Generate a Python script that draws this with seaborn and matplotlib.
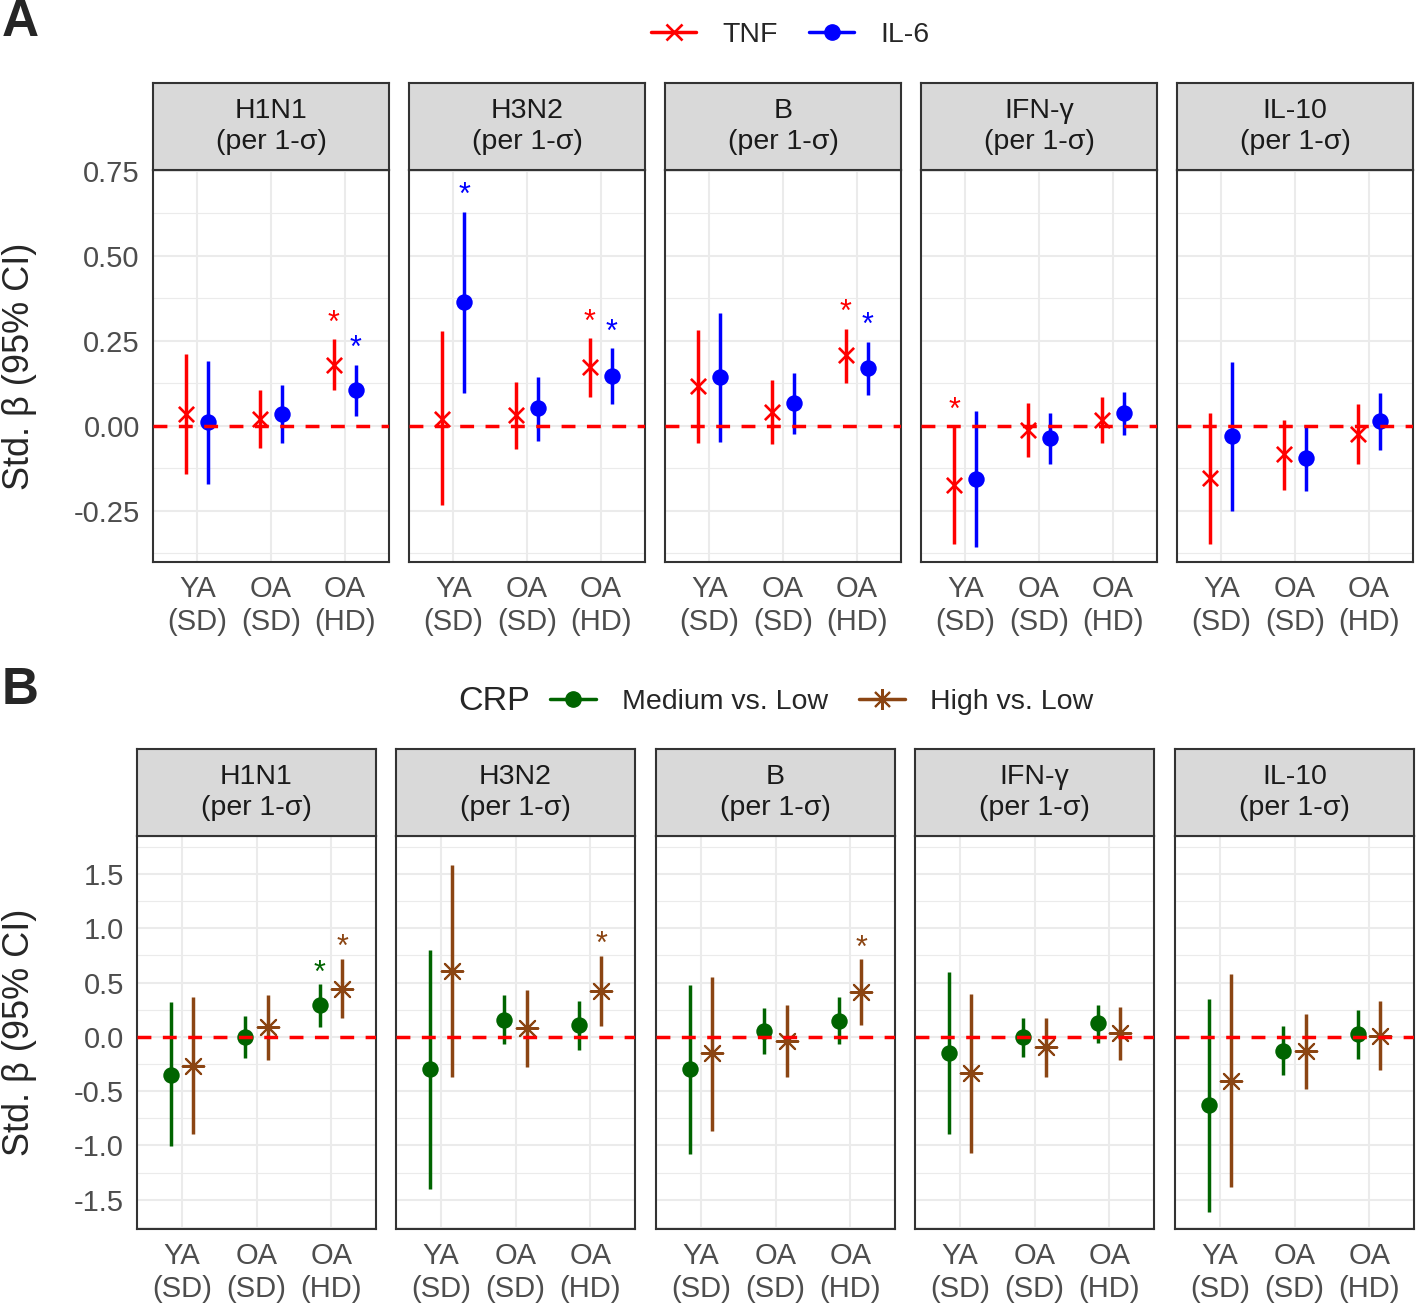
import pandas as pd
import matplotlib.pyplot as plt
from matplotlib.lines import Line2D
from matplotlib.ticker import MultipleLocator, FormatStrFormatter
import seaborn as sns

sns.set_style("white")
plt.rcParams['font.family'] = ['Liberation Sans', 'DejaVu Sans']
plt.rcParams['axes.unicode_minus'] = False

# -------------------------------
# Data
# -------------------------------
facets = ["H1N1", "H3N2", "B", "IFN-γ", "IL-10"]
groups = ["YA\n(SD)", "OA\n(SD)", "OA\n(HD)"]

# Panel A: TNF and IL-6, rows = facets, cols = groups
tnf_est = [[0.035, 0.020, 0.180], [0.020, 0.032, 0.172], [0.118, 0.042, 0.208], [-0.175, -0.012, 0.018], [-0.152, -0.084, -0.023]]
tnf_lo = [[-0.140, -0.065, 0.105], [-0.233, -0.068, 0.086], [-0.049, -0.054, 0.125], [-0.348, -0.090, -0.049], [-0.346, -0.188, -0.111]]
tnf_hi = [[0.210, 0.105, 0.255], [0.280, 0.130, 0.257], [0.282, 0.135, 0.286], [-0.002, 0.067, 0.086], [0.038, 0.018, 0.064]]
tnf_sig = [[0, 0, 1], [0, 0, 1], [0, 0, 1], [1, 0, 0], [0, 0, 0]]

il6_est = [[0.010, 0.035, 0.105], [0.364, 0.052, 0.147], [0.143, 0.066, 0.170], [-0.157, -0.035, 0.037], [-0.029, -0.094, 0.014]]
il6_lo = [[-0.170, -0.050, 0.030], [0.096, -0.044, 0.064], [-0.047, -0.023, 0.092], [-0.357, -0.111, -0.028], [-0.251, -0.190, -0.070]]
il6_hi = [[0.190, 0.120, 0.180], [0.630, 0.145, 0.228], [0.332, 0.154, 0.247], [0.043, 0.038, 0.100], [0.189, 0.002, 0.096]]
il6_sig = [[0, 0, 1], [1, 0, 1], [0, 0, 1], [0, 0, 0], [0, 0, 0]]

# Panel B: CRP medium / high vs low
med_est = [[-0.347, 0.000, 0.291], [-0.300, 0.153, 0.107], [-0.300, 0.058, 0.150], [-0.147, 0.000, 0.123], [-0.629, -0.129, 0.025]]
med_lo = [[-1.006, -0.193, 0.092], [-1.405, -0.067, -0.123], [-1.077, -0.156, -0.067], [-0.899, -0.184, -0.055], [-1.610, -0.356, -0.206]]
med_hi = [[0.322, 0.193, 0.485], [0.804, 0.383, 0.334], [0.482, 0.270, 0.368], [0.601, 0.169, 0.291], [0.344, 0.098, 0.245]]
med_sig = [[0, 0, 1], [0, 0, 0], [0, 0, 0], [0, 0, 0], [0, 0, 0]]

high_est = [[-0.267, 0.092, 0.439], [0.607, 0.077, 0.423], [-0.153, -0.037, 0.414], [-0.337, -0.098, 0.031], [-0.405, -0.135, 0.012]]
high_lo = [[-0.896, -0.209, 0.169], [-0.368, -0.276, 0.101], [-0.865, -0.368, 0.113], [-1.074, -0.374, -0.215], [-1.387, -0.482, -0.301]]
high_hi = [[0.368, 0.390, 0.721], [1.580, 0.436, 0.748], [0.552, 0.297, 0.715], [0.399, 0.169, 0.279], [0.577, 0.212, 0.328]]
high_sig = [[0, 0, 1], [0, 0, 1], [0, 0, 1], [0, 0, 0], [0, 0, 0]]


def long_table(series_data):
    rows = []
    for name, (est, lo, hi, sig) in series_data.items():
        for fi, f in enumerate(facets):
            for gi, g in enumerate(groups):
                rows.append(dict(series=name, facet=f, group=g, est=est[fi][gi],
                                 lo=lo[fi][gi], hi=hi[fi][gi], sig=sig[fi][gi]))
    return pd.DataFrame(rows)


df_a = long_table({"TNF": (tnf_est, tnf_lo, tnf_hi, tnf_sig),
                   "IL-6": (il6_est, il6_lo, il6_hi, il6_sig)})
df_b = long_table({"Medium vs. Low": (med_est, med_lo, med_hi, med_sig),
                   "High vs. Low": (high_est, high_lo, high_hi, high_sig)})

# -------------------------------
# Styles
# -------------------------------
style_a = {
    "TNF": dict(color="#FF0000", marker="x", s=120, lw=1.9, off=-0.15),
    "IL-6": dict(color="#0000FF", marker="o", s=140, lw=0, off=0.15),
}
style_b = {
    "Medium vs. Low": dict(color="#006400", marker="o", s=140, lw=0, off=-0.15),
    "High vs. Low": dict(color="#8B4513", marker=(8, 2, 0), s=240, lw=1.5, off=0.15),
}

W, H = 1416, 1306
fig = plt.figure(figsize=(W / 100, H / 100), dpi=100)


def px_rect(x, y, w, h):
    return [x / W, 1 - (y + h) / H, w / W, h / H]


def draw_row(df, styles, lefts, width, strip_top, plot_top, plot_bot,
             ylim, yticks, minor, fmt, star_off):
    for fi, facet in enumerate(facets):
        ax = fig.add_axes(px_rect(lefts[fi], plot_top, width, plot_bot - plot_top))
        sax = fig.add_axes(px_rect(lefts[fi], strip_top, width, plot_top - strip_top))

        sub = df[df["facet"] == facet].copy()
        sub["x"] = sub["group"].map({g: i for i, g in enumerate(groups)}) + \
            sub["series"].map({k: v["off"] for k, v in styles.items()})

        for name, st in styles.items():
            s = sub[sub["series"] == name]
            ax.vlines(s["x"], s["lo"], s["hi"], colors=st["color"], lw=2.5, zorder=2)
            kw = dict(edgecolor=st["color"]) if st["lw"] == 0 else {}
            sns.scatterplot(data=s, x="x", y="est", color=st["color"], marker=st["marker"],
                            s=st["s"], linewidth=st["lw"], ax=ax, zorder=3, legend=False, **kw)
            for _, r in s[s["sig"] == 1].iterrows():
                ax.annotate("*", (r["x"], r["hi"]), xytext=(0, star_off),
                            textcoords="offset points", ha="center", va="baseline",
                            fontsize=22, color=st["color"], zorder=4)

        ax.axhline(0, color="#FF0000", lw=2.5, dashes=(4.0, 3.3), zorder=4)

        ax.set_xlim(-0.6, 2.6)
        ax.set_ylim(*ylim)
        ax.set_xticks(range(len(groups)))
        ax.set_xticklabels(groups, linespacing=1.2)
        ax.set_yticks(yticks)
        ax.yaxis.set_major_formatter(FormatStrFormatter(fmt))
        ax.yaxis.set_minor_locator(MultipleLocator(minor))
        ax.grid(which="major", color="#EBEBEB", lw=1.5, zorder=0)
        ax.grid(which="minor", axis="y", color="#EBEBEB", lw=0.8, zorder=0)
        ax.set_axisbelow(True)
        ax.set_xlabel("")
        ax.set_ylabel("")
        ax.tick_params(axis="both", which="major", length=5.5, width=1.5, color="#333333",
                       labelsize=21, labelcolor="#4D4D4D", pad=4)
        ax.tick_params(which="minor", length=0)
        if fi > 0:
            ax.tick_params(axis="y", left=False, labelleft=False)
        for sp in ax.spines.values():
            sp.set_color("#333333")
            sp.set_linewidth(1.5)

        sax.set_facecolor("#D9D9D9")
        sax.set_xticks([])
        sax.set_yticks([])
        for sp in sax.spines.values():
            sp.set_color("#333333")
            sp.set_linewidth(1.5)
        sax.text(0.5, 0.5, f"{facet}\n(per 1-σ)", ha="center", va="center",
                 fontsize=20.5, color="#1A1A1A", linespacing=1.25, transform=sax.transAxes)


# -------------------------------
# Panel A
# -------------------------------
draw_row(df_a, style_a, [153, 409, 665, 921, 1177], 236, 83, 170, 562,
         (-0.40, 0.752), [-0.25, 0.0, 0.25, 0.5, 0.75], 0.125, "%.2f", 5.5)

# -------------------------------
# Panel B
# -------------------------------
draw_row(df_b, style_b, [137, 396, 656, 915, 1175], 239, 749, 836, 1229,
         (-1.77, 1.85), [-1.5, -1.0, -0.5, 0.0, 0.5, 1.0, 1.5], 0.25, "%.1f", 2.0)

# -------------------------------
# Legends, labels, tags
# -------------------------------
handles_a = [Line2D([], [], color=st["color"], marker=st["marker"], lw=2.5, ms=11,
                    mew=st["lw"] if st["lw"] else 1) for st in style_a.values()]
fig.legend(handles_a, list(style_a.keys()), loc="center", bbox_to_anchor=(790 / W, 1 - 35 / H),
           ncol=2, frameon=False, fontsize=20.5, handlelength=1.6, handletextpad=0.9,
           columnspacing=1.1)

handles_b = [Line2D([], [], color=st["color"], marker=st["marker"], lw=2.5,
                    ms=11 if st["lw"] == 0 else 15, mew=st["lw"] if st["lw"] else 1)
             for st in style_b.values()]
fig.legend(handles_b, list(style_b.keys()), loc="center", bbox_to_anchor=(822 / W, 1 - 702 / H),
           ncol=2, frameon=False, fontsize=20.5, handlelength=1.6, handletextpad=0.9,
           columnspacing=1.1)
fig.text(458 / W, 1 - 702 / H, "CRP", fontsize=24.5, ha="left", va="center")

fig.text(20 / W, 1 - 366 / H, "Std. β (95% CI)", rotation=90, ha="center", va="center", fontsize=26)
fig.text(20 / W, 1 - 1032 / H, "Std. β (95% CI)", rotation=90, ha="center", va="center", fontsize=26)

fig.text(2 / W, 1 - 22 / H, "A", fontsize=37, fontweight="bold", ha="left", va="center")
fig.text(2 / W, 1 - 690 / H, "B", fontsize=37, fontweight="bold", ha="left", va="center")

fig.savefig("out.png", dpi=100)
